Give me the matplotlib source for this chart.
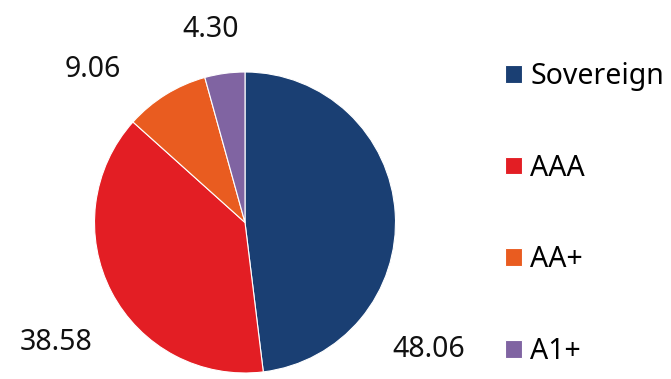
import matplotlib
matplotlib.use("Agg")
import matplotlib.pyplot as plt

categories = ["Sovereign", "AAA", "AA+", "A1+"]
values = [48.06, 38.58, 9.06, 4.30]
value_labels = ["48.06", "38.58", "9.06", "4.30"]
colors = ["#1a3f73", "#e31e24", "#e95c20", "#8064a2"]

plt.rcParams['font.family'] = ['Noto Sans', 'DejaVu Sans']

W, H = 671, 379
fig = plt.figure(figsize=(W / 100, H / 100), dpi=100)
cx, cy, r = 245, 222.5, 150.5
ax = fig.add_axes([(cx - r) / W, 1 - (cy + r) / H, 2 * r / W, 2 * r / H])
wedges, _ = ax.pie(values, colors=colors, startangle=90, counterclock=False,
                   radius=1, wedgeprops=dict(edgecolor="white", linewidth=0.8))
ax.set_xlim(-1, 1)
ax.set_ylim(-1, 1)
ax.set_aspect("equal")

# label baseline positions in pixels (x centre, baseline y from top)
label_px = [(428.5, 357), (56, 350), (93, 77), (211, 37)]
for lab, (px, py) in zip(value_labels, label_px):
    ax.text((px - cx) / r, (cy - py) / r, lab, ha="center", va="baseline",
            fontsize=20.5, color="#111111", clip_on=False)

fig.legend(wedges, categories, loc="upper left", bbox_to_anchor=(505 / W, 1 - 62 / H),
           frameon=False, fontsize=20.5, labelspacing=2.2, handlelength=0.58,
           handleheight=0.58, handletextpad=0.3, borderpad=0, borderaxespad=0)

fig.savefig("out.png", dpi=100)
